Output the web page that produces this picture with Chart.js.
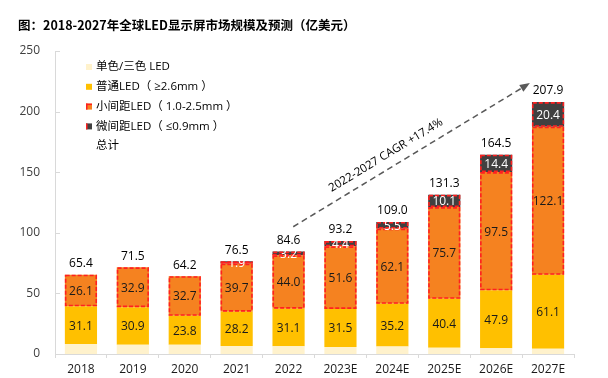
<!DOCTYPE html>
<html><head><meta charset="utf-8">
<script src="https://cdn.jsdelivr.net/npm/chart.js@4"></script>
<style>html,body{margin:0;padding:0;background:#fff}#wrap{width:608px;height:378px;position:relative}</style>
</head><body><div id="wrap"><canvas id="c" width="608" height="378"></canvas></div>
<script>
const categories = ['2018','2019','2020','2021','2022','2023E','2024E','2025E','2026E','2027E'];
const monoColorLED = [8.2,7.7,7.7,6.7,6.3,5.7,6.2,5.1,4.7,4.3];
const standardLED = [31.1,30.9,23.8,28.2,31.1,31.5,35.2,40.4,47.9,61.1];
const smallPitchLED = [26.1,32.9,32.7,39.7,44.0,51.6,62.1,75.7,97.5,122.1];
const microPitchLED = [null,null,null,1.9,3.2,4.4,5.5,10.1,14.4,20.4];
const totals = [65.4,71.5,64.2,76.5,84.6,93.2,109.0,131.3,164.5,207.9];
const yTicks = [0,50,100,150,200,250];
const seriesNames = ['单色/三色 LED','普通LED（ ≥2.6mm ）','小间距LED（ 1.0-2.5mm ）','微间距LED（ ≤0.9mm ）'];
const totalName = '总计';
const titleText = '图：2018-2027年全球LED显示屏市场规模及预测（亿美元）';
const cagrText = '2022-2027 CAGR +17.4%';
// arrow annotation in data units: [category index, value]
const arrowStart = [4.09, 105];
const arrowEnd = [8.65, 223.5];

const F = "'Open Sans','Noto Sans CJK SC',sans-serif";
const colors = ['#FFF2CC','#FFC000','#F58220','#404040'];
const labelColors = [null,'#1a1a1a','#1a1a1a','#ffffff'];

const overlay = {
  id:'overlay',
  afterDatasetsDraw(chart){
    const ctx = chart.ctx;
    const xs = chart.scales.x, ys = chart.scales.y;
    ctx.save();
    ctx.strokeStyle = '#FF2020'; ctx.lineWidth = 1.6; ctx.setLineDash([4,2]);
    [2,3].forEach(di=>{
      const meta = chart.getDatasetMeta(di);
      meta.data.forEach((el,i)=>{
        if (chart.data.datasets[di].data[i]==null) return;
        const p = el.getProps(['x','y','base','width'],true);
        const l = p.x - p.width/2, t = Math.min(p.y,p.base), h = Math.abs(p.base-p.y);
        ctx.strokeRect(l+0.8, t+0.8, p.width-1.6, h-1.6);
      });
    });
    ctx.restore();
    ctx.save();
    ctx.font = '12px ' + F; ctx.textAlign='center'; ctx.textBaseline='middle';
    [1,2,3].forEach(di=>{
      const meta = chart.getDatasetMeta(di);
      meta.data.forEach((el,i)=>{
        const v = chart.data.datasets[di].data[i];
        if (v==null) return;
        const p = el.getProps(['x','y','base'],true);
        ctx.fillStyle = labelColors[di];
        ctx.fillText(v.toFixed(1), p.x, (p.y+p.base)/2 + 1);
      });
    });
    ctx.fillStyle = '#000';
    totals.forEach((t,i)=>{
      const x = xs.getPixelForValue(i);
      ctx.fillText(t.toFixed(1), x, ys.getPixelForValue(t) - 11);
    });
    ctx.restore();
  },
  afterDraw(chart){
    const ctx = chart.ctx;
    const xs = chart.scales.x, ys = chart.scales.y, ca = chart.chartArea;
    ctx.save();
    ctx.strokeStyle = '#D9D9D9'; ctx.lineWidth = 1;
    yTicks.forEach(v=>{
      const y = Math.round(ys.getPixelForValue(v))+0.5;
      ctx.beginPath(); ctx.moveTo(ca.left, y); ctx.lineTo(ca.left+5, y); ctx.stroke();
    });
    ctx.fillStyle = '#000'; ctx.font = "bold 12.5px 'Noto Sans CJK SC',sans-serif";
    ctx.textAlign='left'; ctx.textBaseline='middle';
    ctx.fillText(titleText, 18, 25);
    ctx.font = '11.5px ' + F;
    const lx = 86, ly0 = 67, step = 19.8;
    seriesNames.forEach((n,k)=>{
      const y = ly0 + k*step;
      ctx.fillStyle = colors[k];
      ctx.fillRect(lx, y-3, 6, 6);
      if (k>=2){ ctx.fillStyle='#FF2020'; ctx.fillRect(lx, y-3, 1.5, 6); if(k===2) ctx.fillRect(lx, y-3, 6, 1.5); }
      ctx.fillStyle = '#000';
      ctx.fillText(n, lx+10, y);
    });
    ctx.fillText(totalName, lx+10, ly0 + 4*step);
    const band = xs.getPixelForValue(1) - xs.getPixelForValue(0);
    const px = c => xs.getPixelForValue(0) + c*band;
    const x1 = px(arrowStart[0]), y1 = ys.getPixelForValue(arrowStart[1]);
    const x2 = px(arrowEnd[0]), y2 = ys.getPixelForValue(arrowEnd[1]);
    const ang = Math.atan2(y2-y1, x2-x1);
    ctx.strokeStyle = '#595959'; ctx.lineWidth = 1.5; ctx.setLineDash([6,4]);
    ctx.beginPath(); ctx.moveTo(x1,y1); ctx.lineTo(x2 - 8*Math.cos(ang), y2 - 8*Math.sin(ang)); ctx.stroke();
    ctx.setLineDash([]);
    ctx.fillStyle = '#595959';
    ctx.beginPath();
    ctx.moveTo(x2,y2);
    ctx.lineTo(x2 - 10*Math.cos(ang) + 4*Math.sin(ang), y2 - 10*Math.sin(ang) - 4*Math.cos(ang));
    ctx.lineTo(x2 - 10*Math.cos(ang) - 4*Math.sin(ang), y2 - 10*Math.sin(ang) + 4*Math.cos(ang));
    ctx.closePath(); ctx.fill();
    const mx = x1 + (x2-x1)*0.42, my = y1 + (y2-y1)*0.42;
    ctx.translate(mx + 13*Math.sin(ang), my - 13*Math.cos(ang));
    ctx.rotate(ang);
    ctx.fillStyle = '#000'; ctx.font = '11.5px ' + F; ctx.textAlign='center'; ctx.textBaseline='middle';
    ctx.fillText(cagrText, 0, 0);
    ctx.restore();
  }
};

new Chart(document.getElementById('c'), {
  type:'bar',
  data:{
    labels: categories,
    datasets:[
      {label:seriesNames[0], data:monoColorLED, backgroundColor:colors[0]},
      {label:seriesNames[1], data:standardLED, backgroundColor:colors[1]},
      {label:seriesNames[2], data:smallPitchLED, backgroundColor:colors[2]},
      {label:seriesNames[3], data:microPitchLED, backgroundColor:colors[3]}
    ].map(d=>Object.assign(d,{barPercentage:0.62, categoryPercentage:1, borderWidth:0}))
  },
  options:{
    responsive:false, animation:false,
    layout:{padding:{top:51,right:34,bottom:0,left:0}},
    plugins:{legend:{display:false}, tooltip:{enabled:false}, title:{display:false}},
    scales:{
      x:{stacked:true,
         grid:{display:true, drawOnChartArea:false, drawTicks:true, tickLength:4, color:'#D9D9D9', offset:true},
         border:{display:true, color:'#D9D9D9'},
         ticks:{color:'#1a1a1a', font:{size:12, family:F}, padding:4, maxRotation:0, autoSkip:false},
         afterFit:s=>{s.height=24;}},
      y:{stacked:true, min:0, max:250,
         afterBuildTicks:s=>{s.ticks = yTicks.map(v=>({value:v}));},
         ticks:{color:'#404040', font:{size:12, family:F}, padding:15},
         grid:{display:false, drawTicks:false},
         border:{display:true, color:'#D9D9D9'},
         afterFit:s=>{s.width=55;}}
    }
  },
  plugins:[overlay]
});
</script></body></html>
